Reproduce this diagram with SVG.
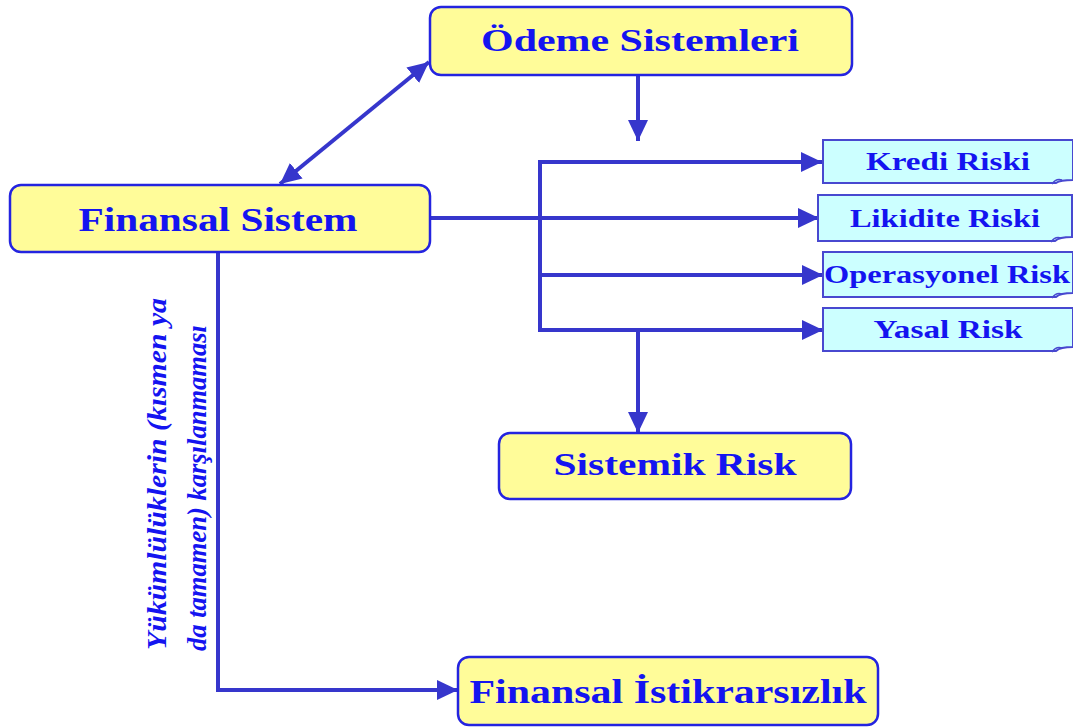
<svg xmlns="http://www.w3.org/2000/svg" width="1073" height="727" viewBox="0 0 1073 727">
  <style>
    .main rect { fill: #FFFC99; stroke: #2424E0; stroke-width: 2.5; }
    .main text { font-family: "Liberation Serif", "Times New Roman", serif; font-weight: bold; fill: #1414F0; text-anchor: middle; }
    .risk .box { fill: #CCFFFF; stroke: #4848D0; stroke-width: 2; }
    .risk .curl { fill: none; stroke: #4848D0; stroke-width: 1.5; }
    .risk text { font-family: "Liberation Serif", "Times New Roman", serif; font-weight: bold; font-size: 26px; fill: #1414F0; text-anchor: middle; }
    .conn { fill: none; stroke: #3636CC; stroke-width: 4; }
    .note { font-family: "Liberation Serif", "Times New Roman", serif; font-weight: bold; font-style: italic; font-size: 28px; fill: #1414F0; }
  </style>
  <defs>
    <marker id="arrow" markerUnits="userSpaceOnUse" markerWidth="24" markerHeight="22" refX="21" refY="11" orient="auto-start-reverse">
      <path d="M0,1 L21,11 L0,21 Z" fill="#3636CC"/>
    </marker>
  </defs>

  <!-- connectors -->
  <g id="connectors">
    <line class="conn" x1="638" y1="76" x2="638" y2="141" marker-end="url(#arrow)"/>
    <line class="conn" x1="429" y1="62" x2="280" y2="184" marker-start="url(#arrow)" marker-end="url(#arrow)"/>
    <path class="conn" d="M540,330 V162"/>
    <line class="conn" x1="538" y1="162" x2="822" y2="162" marker-end="url(#arrow)"/>
    <line class="conn" x1="431" y1="218" x2="819" y2="218" marker-end="url(#arrow)"/>
    <line class="conn" x1="540" y1="275" x2="823" y2="275" marker-end="url(#arrow)"/>
    <line class="conn" x1="538" y1="330" x2="823" y2="330" marker-end="url(#arrow)"/>
    <line class="conn" x1="638" y1="330" x2="638" y2="433" marker-end="url(#arrow)"/>
    <path class="conn" d="M218,253 V690 H458" marker-end="url(#arrow)"/>
  </g>

  <g id="odeme-sistemleri" class="main">
    <rect x="430" y="7" width="422" height="68" rx="11"/>
    <text x="640" y="51" font-size="32" textLength="318" lengthAdjust="spacingAndGlyphs">Ödeme Sistemleri</text>
  </g>

  <g id="finansal-sistem" class="main">
    <rect x="10" y="185" width="420" height="67" rx="11"/>
    <text x="218" y="231" font-size="33" textLength="279" lengthAdjust="spacingAndGlyphs">Finansal Sistem</text>
  </g>

  <g id="sistemik-risk" class="main">
    <rect x="499" y="433" width="352" height="66" rx="11"/>
    <text x="675" y="475" font-size="31" textLength="243" lengthAdjust="spacingAndGlyphs">Sistemik Risk</text>
  </g>

  <g id="finansal-istikrarsizlik" class="main">
    <rect x="458" y="657" width="420" height="68" rx="11"/>
    <text x="668" y="703" font-size="34" textLength="397" lengthAdjust="spacingAndGlyphs">Finansal İstikrarsızlık</text>
  </g>

  <g id="kredi-riski" class="risk">
    <path class="box" d="M823,140 H1073 V180 Q1060,180 1056,183 H823 Z"/>
    <path class="curl" d="M1052,184 Q1056,178 1062,180"/>
    <text x="948" y="170" textLength="164" lengthAdjust="spacingAndGlyphs">Kredi Riski</text>
  </g>

  <g id="likidite-riski" class="risk">
    <path class="box" d="M818,195 H1072 V237 Q1059,237 1055,241 H818 Z"/>
    <path class="curl" d="M1051,242 Q1055,236 1061,238"/>
    <text x="945" y="227" textLength="190" lengthAdjust="spacingAndGlyphs">Likidite Riski</text>
  </g>

  <g id="operasyonel-risk" class="risk">
    <path class="box" d="M823,252 H1073 V293 Q1060,293 1056,297 H823 Z"/>
    <path class="curl" d="M1052,298 Q1056,292 1062,294"/>
    <text x="947" y="283" textLength="246" lengthAdjust="spacingAndGlyphs">Operasyonel Risk</text>
  </g>

  <g id="yasal-risk" class="risk">
    <path class="box" d="M823,308 H1073 V347 Q1060,347 1056,351 H823 Z"/>
    <path class="curl" d="M1052,352 Q1056,346 1062,348"/>
    <text x="948" y="338" textLength="149" lengthAdjust="spacingAndGlyphs">Yasal Risk</text>
  </g>

  <!-- label along the left vertical connector -->
  <g id="yukumluluk-label">
    <text class="note" transform="translate(166,650) rotate(-90)" textLength="352" lengthAdjust="spacingAndGlyphs">Yükümlülüklerin (kısmen ya</text>
    <text class="note" transform="translate(206,651) rotate(-90)" textLength="326" lengthAdjust="spacingAndGlyphs">da tamamen) karşılanmaması</text>
  </g>
</svg>
